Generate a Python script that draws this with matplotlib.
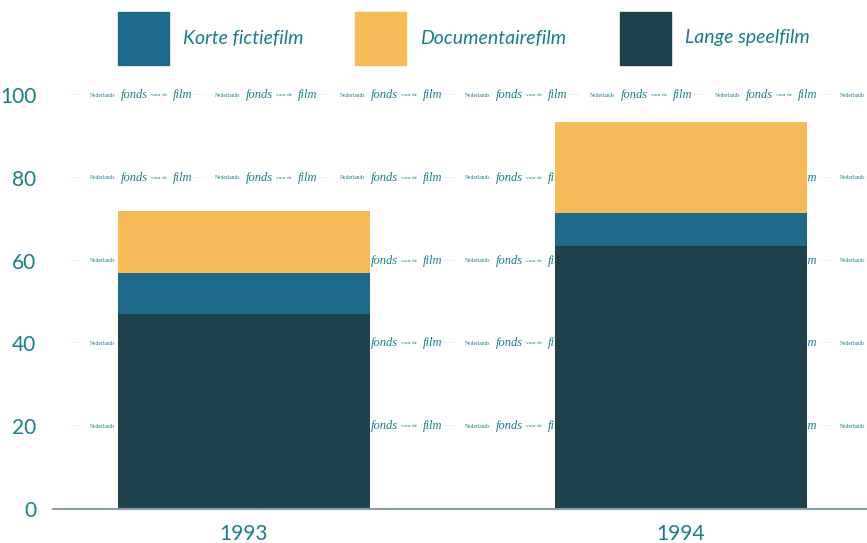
import matplotlib
matplotlib.use("Agg")
import matplotlib.pyplot as plt
import matplotlib.transforms as mtransforms
from matplotlib.patches import Rectangle

# Data
years = ["1993", "1994"]
lange_speelfilm = [47, 63.5]
korte_fictiefilm = [10, 8]
documentairefilm = [15, 22]
yticks = [0, 20, 40, 60, 80, 100]

teal = "#1b7d89"
c_korte = "#1f6a8b"
c_docu = "#f5bb57"
c_lange = "#1d424c"

plt.rcParams["font.family"] = ["Lato", "DejaVu Sans"]

fig = plt.figure(figsize=(8.67, 5.43), dpi=100)
ax = fig.add_axes([53 / 867, 1 - 509 / 543, 814 / 867, (509 - 95) / 543])

x = [0, 1]
w = 0.577
ax.bar(x, lange_speelfilm, width=w, color=c_lange, zorder=3)
ax.bar(x, korte_fictiefilm, width=w, bottom=lange_speelfilm, color=c_korte, zorder=3)
bottom2 = [a + b for a, b in zip(lange_speelfilm, korte_fictiefilm)]
ax.bar(x, documentairefilm, width=w, bottom=bottom2, color=c_docu, zorder=3)

ax.set_xlim(-0.437, 1.426)
ax.set_ylim(0, 100)

# watermark-style gridlines: repeated "Nederlands fonds voor de film"
trans = mtransforms.blended_transform_factory(fig.transFigure, ax.transData)
pieces = [(0, "Nederlands", 4, "normal"), (31, "fonds", 9, "italic"),
          (61, "voor de", 3.8, "normal"), (83, "film", 9, "italic"),
          (104, "· · · · ·", 3, "normal")]
for yv in yticks[1:]:
    start = 90 - 125
    while start < 867:
        for off, txt, fs, st in pieces:
            px = start + off
            if px < 52 or px > 862:
                continue
            ax.text(px / 867, yv, txt, transform=trans, fontsize=fs, style=st,
                    family=["Liberation Serif", "DejaVu Serif"], color=teal,
                    va="center", ha="left", zorder=1, clip_on=False)
        start += 125

for s in ["top", "right", "left"]:
    ax.spines[s].set_visible(False)
ax.spines["bottom"].set_color("#8a9ea3")
ax.spines["bottom"].set_linewidth(1.5)
ax.spines["bottom"].set_zorder(4)

ax.set_yticks(yticks)
ax.set_yticklabels([str(v) for v in yticks])
ax.tick_params(axis="y", length=0, pad=12, labelsize=15, labelcolor=teal)
ax.set_xticks(x)
ax.set_xticklabels(years)
ax.tick_params(axis="x", length=0, pad=11, labelsize=15, labelcolor=teal)

# legend across the top
legend_items = [("Korte fictiefilm", c_korte, 118), ("Documentairefilm", c_docu, 355),
                ("Lange speelfilm", c_lange, 620)]
for label, col, px in legend_items:
    fig.patches.append(Rectangle((px / 867, 1 - 65 / 543), 51 / 867, 53 / 543,
                                 transform=fig.transFigure, color=col))
    fig.text((px + 65) / 867, 1 - 38 / 543, label, fontsize=14, style="italic",
             color=teal, va="center", ha="left")

fig.savefig("out.png", dpi=100)
